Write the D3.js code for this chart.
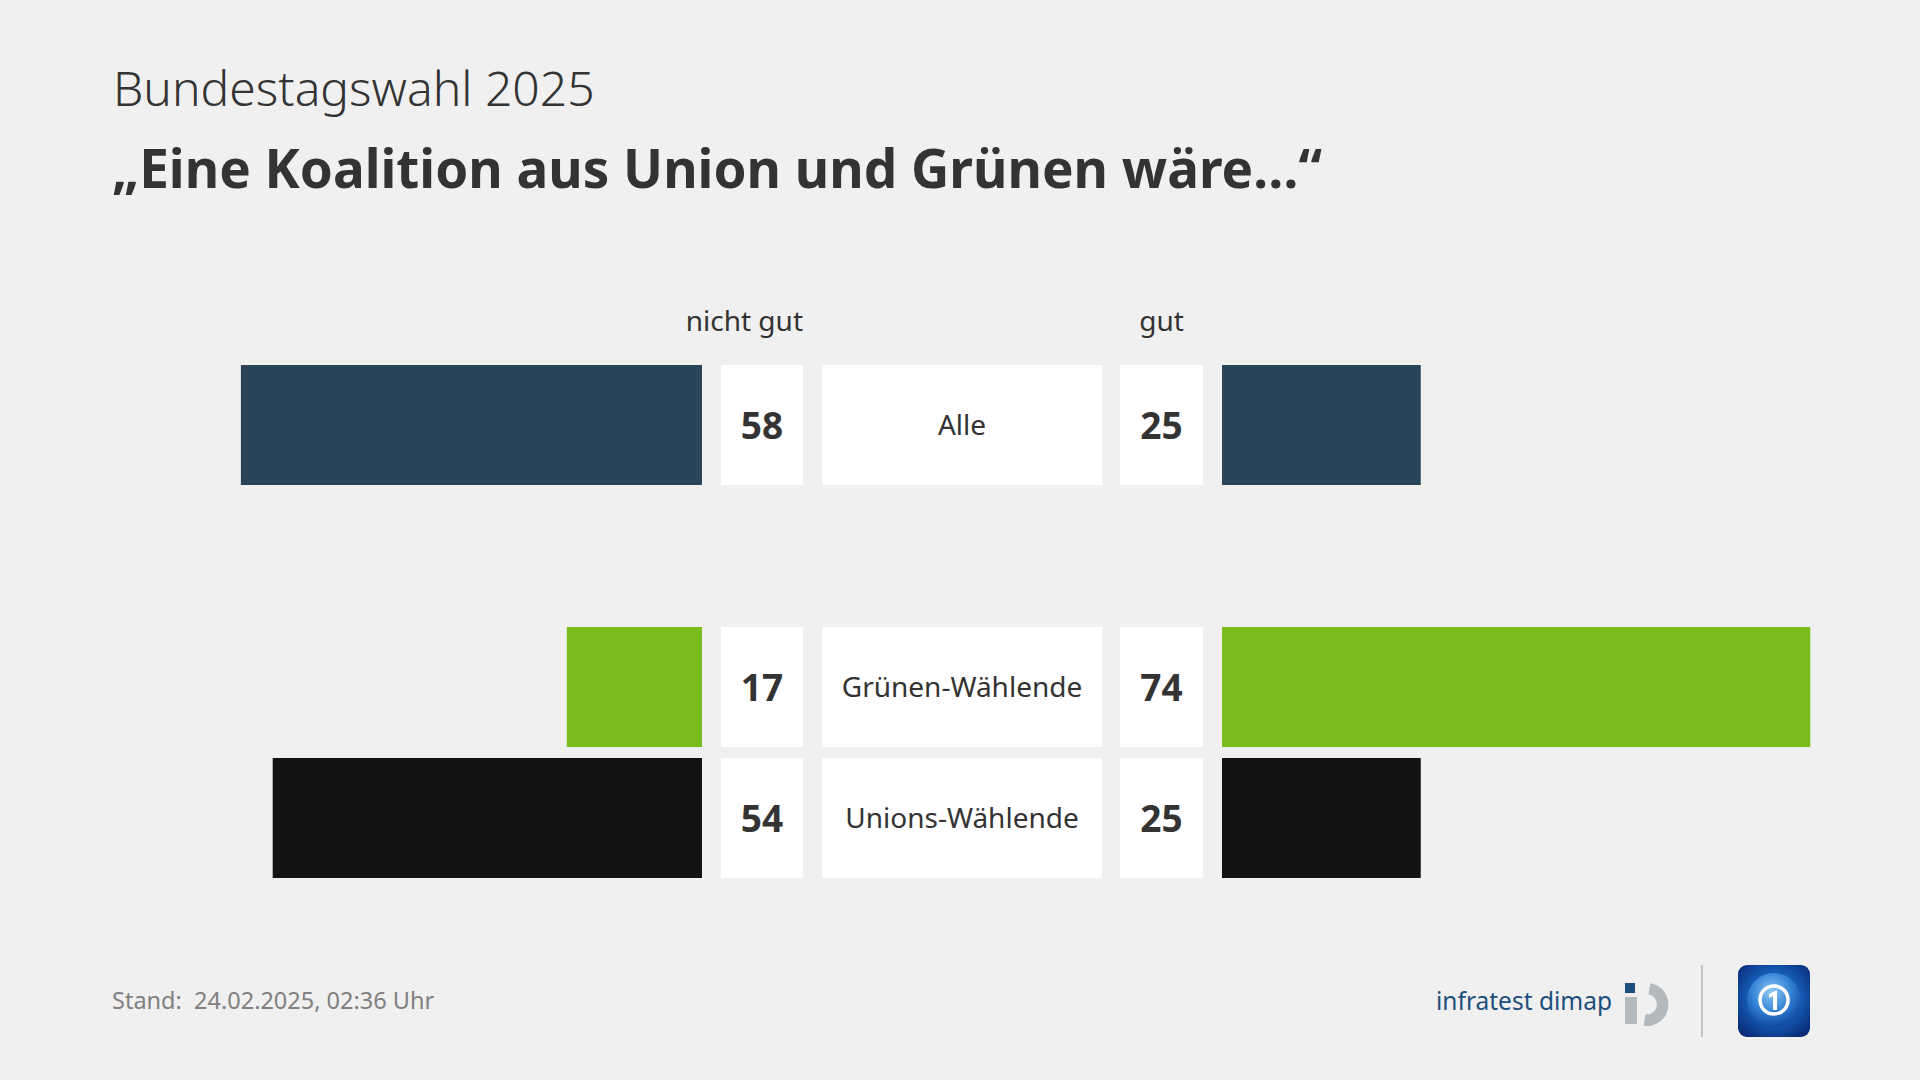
<!DOCTYPE html>
<html>
<head>
<meta charset="utf-8">
<script src="https://cdn.jsdelivr.net/npm/d3@7"></script>
<style>
  html, body { margin: 0; padding: 0; background: #f0f0f0; }
  svg { display: block; }
  text { font-family: "Noto Sans", "Open Sans", sans-serif; }
</style>
</head>
<body>
<svg id="chart" width="1920" height="1080"></svg>
<script>
// ---- data ----
const categories = ["Alle", "Grünen-Wählende", "Unions-Wählende"];
const groupKeys = ["Alle", "_gap", "Grünen-Wählende", "Unions-Wählende"];
const nichtGut = [58, 17, 54];
const gut = [25, 74, 25];
const barColors = ["#2a4557", "#7abc1e", "#121212"];
const columnLabels = ["nicht gut", "gut"];
const supertitle = "Bundestagswahl 2025";
const title = "\u201EEine Koalition aus Union und Grünen wäre\u2026\u201C";
const footnote = "Stand:  24.02.2025, 02:36 Uhr";
const sourceLabel = "infratest dimap";

const rows = categories.map((c, i) => ({ cat: c, neg: nichtGut[i], pos: gut[i], color: barColors[i] }));

const svg = d3.select("#chart");
svg.append("rect").attr("width", 1920).attr("height", 1080).attr("fill", "#f0f0f0");

// titles
svg.append("text").attr("x", 113).attr("y", 106)
  .attr("font-size", 48).attr("font-weight", 300).attr("fill", "#333")
  .text(supertitle);
svg.append("text").attr("x", 112).attr("y", 188)
  .attr("font-size", 53).attr("font-weight", 700).attr("fill", "#333")
  .text(title);

// scales
const y = d3.scaleBand().domain(groupKeys).range([365, 878]).paddingInner(11 / 131).paddingOuter(0);
const len = d3.scaleLinear().domain([0, 100]).range([0, 795]);
const negEnd = 702, posStart = 1222;
const negBox = [721, 803], catBox = [822, 1102], posBox = [1120, 1203];

// column headers
svg.append("text").attr("x", negBox[1]).attr("y", 331).attr("text-anchor", "end")
  .attr("font-size", 28).attr("fill", "#333").text(columnLabels[0]);
svg.append("text").attr("x", (posBox[0] + posBox[1]) / 2).attr("y", 331).attr("text-anchor", "middle")
  .attr("font-size", 28).attr("fill", "#333").text(columnLabels[1]);

const g = svg.selectAll("g.row").data(rows).join("g").attr("class", "row")
  .attr("transform", d => `translate(0,${y(d.cat)})`);

const h = y.bandwidth();
g.append("rect").attr("x", d => negEnd - len(d.neg)).attr("y", 0)
  .attr("width", d => len(d.neg)).attr("height", h).attr("fill", d => d.color);
g.append("rect").attr("x", posStart).attr("y", 0)
  .attr("width", d => len(d.pos)).attr("height", h).attr("fill", d => d.color);

[negBox, catBox, posBox].forEach(b => {
  g.append("rect").attr("x", b[0]).attr("y", 0).attr("width", b[1] - b[0]).attr("height", h).attr("fill", "#ffffff");
});

g.append("text").attr("x", (negBox[0] + negBox[1]) / 2).attr("y", h / 2 + 14)
  .attr("text-anchor", "middle").attr("font-size", 37).attr("font-weight", 700).attr("fill", "#333")
  .text(d => d.neg);
g.append("text").attr("x", (posBox[0] + posBox[1]) / 2).attr("y", h / 2 + 14)
  .attr("text-anchor", "middle").attr("font-size", 37).attr("font-weight", 700).attr("fill", "#333")
  .text(d => d.pos);
g.append("text").attr("x", (catBox[0] + catBox[1]) / 2).attr("y", h / 2 + 10)
  .attr("text-anchor", "middle").attr("font-size", 28).attr("fill", "#333")
  .text(d => d.cat);

// footer
svg.append("text").attr("x", 112).attr("y", 1009)
  .attr("font-size", 23.5).attr("fill", "#808080").attr("xml:space", "preserve")
  .style("white-space", "pre").text(footnote);

// infratest dimap logo
svg.append("text").attr("x", 1436).attr("y", 1010)
  .attr("font-size", 24.5).attr("fill", "#1d4f7c").text(sourceLabel);
svg.append("rect").attr("x", 1625).attr("y", 983).attr("width", 10).attr("height", 10).attr("fill", "#1d4f7c");
svg.append("rect").attr("x", 1625).attr("y", 997).attr("width", 12).attr("height", 27).attr("fill", "#b4b9bd");
svg.append("path")
  .attr("transform", "translate(1647,1004.5)")
  .attr("d", d3.arc().innerRadius(10).outerRadius(21.5).startAngle(0.15).endAngle(Math.PI * 1.05)())
  .attr("fill", "#b4b9bd");

// separator
svg.append("line").attr("x1", 1702).attr("x2", 1702).attr("y1", 965).attr("y2", 1037)
  .attr("stroke", "#c4c4c4").attr("stroke-width", 2);

// ARD logo
const defs = svg.append("defs");
const rg = defs.append("radialGradient").attr("id", "ardbg").attr("cx", "50%").attr("cy", "45%").attr("r", "65%");
rg.append("stop").attr("offset", "0%").attr("stop-color", "#3a8ae0");
rg.append("stop").attr("offset", "60%").attr("stop-color", "#1456b0");
rg.append("stop").attr("offset", "100%").attr("stop-color", "#0a2c78");
const rg2 = defs.append("radialGradient").attr("id", "globe").attr("cx", "45%").attr("cy", "35%").attr("r", "70%");
rg2.append("stop").attr("offset", "0%").attr("stop-color", "#8cc8f5");
rg2.append("stop").attr("offset", "55%").attr("stop-color", "#2f7fd4");
rg2.append("stop").attr("offset", "100%").attr("stop-color", "#0d3f99");
svg.append("rect").attr("x", 1738).attr("y", 965).attr("width", 72).attr("height", 72).attr("rx", 9)
  .attr("fill", "url(#ardbg)");
svg.append("circle").attr("cx", 1774).attr("cy", 1000).attr("r", 27).attr("fill", "url(#globe)");
svg.append("circle").attr("cx", 1774).attr("cy", 1000).attr("r", 14).attr("fill", "none")
  .attr("stroke", "#ffffff").attr("stroke-width", 3.5);
svg.append("path").attr("d", "M1769,994 L1777,990 L1777,1010 L1773,1010 L1773,996 L1769,998 Z").attr("fill", "#ffffff");
</script>
</body>
</html>
